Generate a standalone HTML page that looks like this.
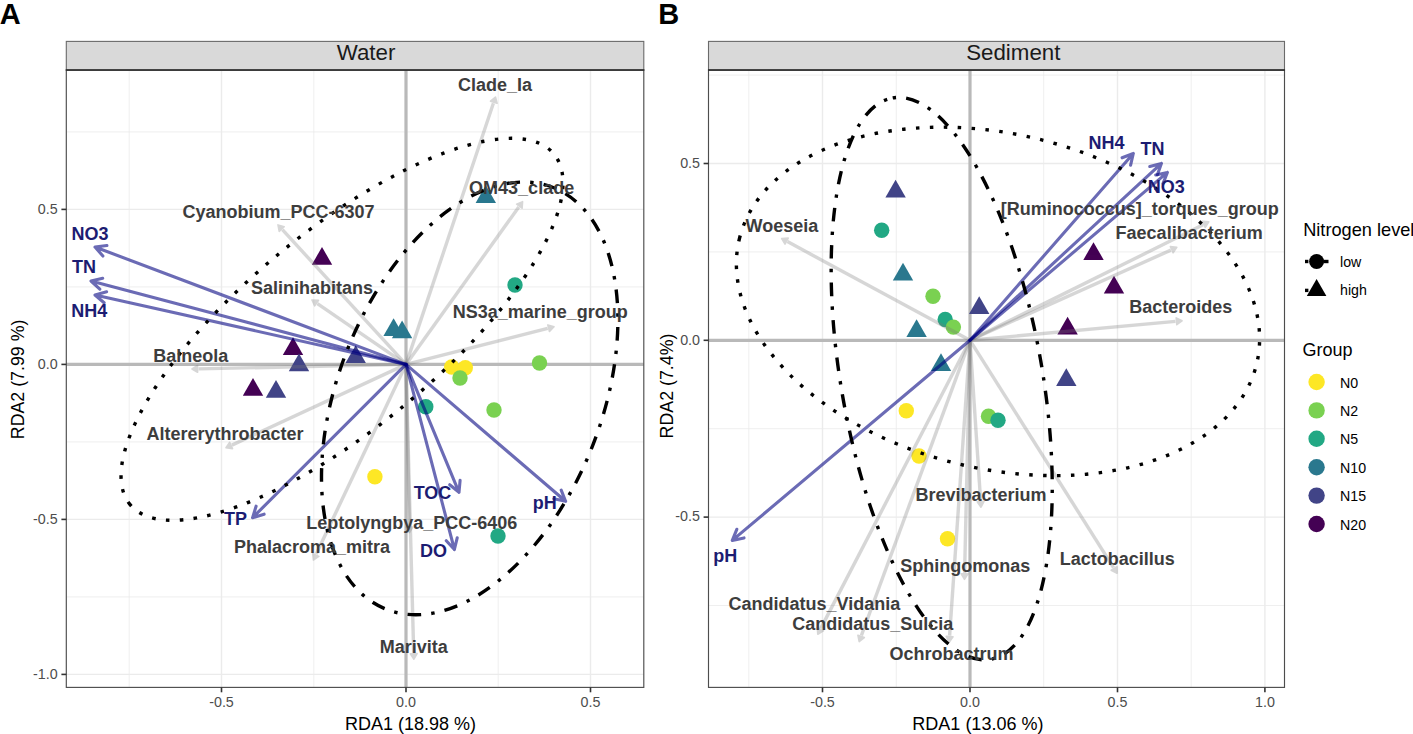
<!DOCTYPE html><html><head><meta charset="utf-8"><style>html,body{margin:0;padding:0;background:#fff;overflow:hidden}svg{display:block}text{font-family:"Liberation Sans", sans-serif}</style></head><body>
<svg width="1413" height="734" viewBox="0 0 1413 734">
<rect width="1413" height="734" fill="#fff"/>
<defs>
<clipPath id="clipWater"><rect x="66.3" y="70" width="577.5" height="617.4"/></clipPath>
<clipPath id="clipSediment"><rect x="708.5" y="70" width="576.0" height="617.4"/></clipPath>
</defs>
<text x="-0.3" y="23.7" font-size="29" font-weight="bold" fill="#000">A</text>
<text x="658.3" y="23.8" font-size="29" font-weight="bold" fill="#000">B</text>
<g clip-path="url(#clipWater)">
<line x1="129.2" y1="70" x2="129.2" y2="687.4" stroke="#ebebeb" stroke-width="0.8"/>
<line x1="313.8" y1="70" x2="313.8" y2="687.4" stroke="#ebebeb" stroke-width="0.8"/>
<line x1="498.2" y1="70" x2="498.2" y2="687.4" stroke="#ebebeb" stroke-width="0.8"/>
<line x1="66.3" y1="596.9" x2="643.8" y2="596.9" stroke="#ebebeb" stroke-width="0.8"/>
<line x1="66.3" y1="441.9" x2="643.8" y2="441.9" stroke="#ebebeb" stroke-width="0.8"/>
<line x1="66.3" y1="286.9" x2="643.8" y2="286.9" stroke="#ebebeb" stroke-width="0.8"/>
<line x1="66.3" y1="131.9" x2="643.8" y2="131.9" stroke="#ebebeb" stroke-width="0.8"/>
<line x1="221.5" y1="70" x2="221.5" y2="687.4" stroke="#ebebeb" stroke-width="1.4"/>
<line x1="406.0" y1="70" x2="406.0" y2="687.4" stroke="#ebebeb" stroke-width="1.4"/>
<line x1="590.5" y1="70" x2="590.5" y2="687.4" stroke="#ebebeb" stroke-width="1.4"/>
<line x1="66.3" y1="674.4" x2="643.8" y2="674.4" stroke="#ebebeb" stroke-width="1.4"/>
<line x1="66.3" y1="519.4" x2="643.8" y2="519.4" stroke="#ebebeb" stroke-width="1.4"/>
<line x1="66.3" y1="364.4" x2="643.8" y2="364.4" stroke="#ebebeb" stroke-width="1.4"/>
<line x1="66.3" y1="209.4" x2="643.8" y2="209.4" stroke="#ebebeb" stroke-width="1.4"/>
<line x1="406.0" y1="70" x2="406.0" y2="687.4" stroke="#b9b9b9" stroke-width="3.2"/>
<line x1="66.3" y1="364.4" x2="643.8" y2="364.4" stroke="#b9b9b9" stroke-width="3.2"/>
<circle cx="515.0" cy="285.0" r="7.7" fill="#22A884"/>
<circle cx="451.7" cy="367.0" r="7.7" fill="#FDE725"/>
<circle cx="465.3" cy="367.7" r="7.7" fill="#FDE725"/>
<circle cx="460.0" cy="378.0" r="7.7" fill="#7AD151"/>
<circle cx="539.5" cy="363.0" r="7.7" fill="#7AD151"/>
<circle cx="494.0" cy="410.0" r="7.7" fill="#7AD151"/>
<circle cx="425.8" cy="406.7" r="7.7" fill="#22A884"/>
<circle cx="498.0" cy="536.0" r="7.7" fill="#22A884"/>
<circle cx="374.9" cy="476.8" r="7.7" fill="#FDE725"/>
<path d="M485.8 185.2L496.0 202.9L475.6 202.9Z" fill="#2A788E"/>
<path d="M322.0 247.0L332.2 264.7L311.8 264.7Z" fill="#440154"/>
<path d="M293.0 337.2L303.2 354.9L282.8 354.9Z" fill="#440154"/>
<path d="M299.0 353.5L309.2 371.2L288.8 371.2Z" fill="#414487"/>
<path d="M253.0 378.1L263.2 395.8L242.8 395.8Z" fill="#440154"/>
<path d="M276.0 380.0L286.2 397.7L265.8 397.7Z" fill="#414487"/>
<path d="M393.6 318.3L403.8 336.0L383.4 336.0Z" fill="#2A788E"/>
<path d="M402.1 320.5L412.3 338.2L391.9 338.2Z" fill="#2A788E"/>
<path d="M355.7 345.3L365.9 363.0L345.5 363.0Z" fill="#414487"/>
<g opacity="0.3"><line x1="406.0" y1="364.4" x2="493.4" y2="103.2" stroke="#7a7a7a" stroke-width="3.4"/>
<path d="M495.5 97.0L497.0 103.3L490.5 101.2Z" fill="#7a7a7a" stroke="#7a7a7a" stroke-width="1.6" stroke-linejoin="round"/></g>
<g opacity="0.3"><line x1="406.0" y1="364.4" x2="518.8" y2="207.0" stroke="#7a7a7a" stroke-width="3.4"/>
<path d="M522.6 201.7L522.1 208.2L516.6 204.2Z" fill="#7a7a7a" stroke="#7a7a7a" stroke-width="1.6" stroke-linejoin="round"/></g>
<g opacity="0.3"><line x1="406.0" y1="364.4" x2="282.4" y2="229.7" stroke="#7a7a7a" stroke-width="3.4"/>
<path d="M278.0 224.9L284.2 226.7L279.2 231.3Z" fill="#7a7a7a" stroke="#7a7a7a" stroke-width="1.6" stroke-linejoin="round"/></g>
<g opacity="0.3"><line x1="406.0" y1="364.4" x2="317.4" y2="303.7" stroke="#7a7a7a" stroke-width="3.4"/>
<path d="M312.0 300.0L318.5 300.3L314.7 305.9Z" fill="#7a7a7a" stroke="#7a7a7a" stroke-width="1.6" stroke-linejoin="round"/></g>
<g opacity="0.3"><line x1="406.0" y1="364.4" x2="547.7" y2="328.4" stroke="#7a7a7a" stroke-width="3.4"/>
<path d="M554.0 326.8L549.5 331.5L547.8 324.9Z" fill="#7a7a7a" stroke="#7a7a7a" stroke-width="1.6" stroke-linejoin="round"/></g>
<g opacity="0.3"><line x1="406.0" y1="364.4" x2="198.5" y2="368.9" stroke="#7a7a7a" stroke-width="3.4"/>
<path d="M192.0 369.0L197.5 365.5L197.6 372.3Z" fill="#7a7a7a" stroke="#7a7a7a" stroke-width="1.6" stroke-linejoin="round"/></g>
<g opacity="0.3"><line x1="406.0" y1="364.4" x2="231.9" y2="445.1" stroke="#7a7a7a" stroke-width="3.4"/>
<path d="M226.0 447.8L229.6 442.4L232.5 448.6Z" fill="#7a7a7a" stroke="#7a7a7a" stroke-width="1.6" stroke-linejoin="round"/></g>
<g opacity="0.3"><line x1="406.0" y1="364.4" x2="409.4" y2="526.1" stroke="#7a7a7a" stroke-width="3.4"/>
<path d="M409.5 532.6L406.0 527.1L412.8 527.0Z" fill="#7a7a7a" stroke="#7a7a7a" stroke-width="1.6" stroke-linejoin="round"/></g>
<g opacity="0.3"><line x1="406.0" y1="364.4" x2="316.2" y2="554.1" stroke="#7a7a7a" stroke-width="3.4"/>
<path d="M313.4 560.0L312.7 553.5L318.8 556.4Z" fill="#7a7a7a" stroke="#7a7a7a" stroke-width="1.6" stroke-linejoin="round"/></g>
<g opacity="0.3"><line x1="406.0" y1="364.4" x2="413.7" y2="652.7" stroke="#7a7a7a" stroke-width="3.4"/>
<path d="M413.9 659.2L410.4 653.8L417.1 653.6Z" fill="#7a7a7a" stroke="#7a7a7a" stroke-width="1.6" stroke-linejoin="round"/></g>
<path d="M406.0 364.4L95.0 247.0M106.9 245.5L95.0 247.0L102.9 256.0" fill="none" stroke="rgba(0,0,128,0.58)" stroke-width="3.1" stroke-linejoin="round" stroke-linecap="round"/>
<path d="M406.0 364.4L91.0 281.0M102.7 278.3L91.0 281.0L99.8 289.2" fill="none" stroke="rgba(0,0,128,0.58)" stroke-width="3.1" stroke-linejoin="round" stroke-linecap="round"/>
<path d="M406.0 364.4L95.0 295.0M106.6 291.8L95.0 295.0L104.1 302.8" fill="none" stroke="rgba(0,0,128,0.58)" stroke-width="3.1" stroke-linejoin="round" stroke-linecap="round"/>
<path d="M406.0 364.4L252.6 517.7M256.1 506.2L252.6 517.7L264.1 514.2" fill="none" stroke="rgba(0,0,128,0.58)" stroke-width="3.1" stroke-linejoin="round" stroke-linecap="round"/>
<path d="M406.0 364.4L459.0 492.3M449.7 484.7L459.0 492.3L460.1 480.4" fill="none" stroke="rgba(0,0,128,0.58)" stroke-width="3.1" stroke-linejoin="round" stroke-linecap="round"/>
<path d="M406.0 364.4L454.4 549.5M446.3 540.7L454.4 549.5L457.2 537.8" fill="none" stroke="rgba(0,0,128,0.58)" stroke-width="3.1" stroke-linejoin="round" stroke-linecap="round"/>
<path d="M406.0 364.4L565.6 501.3M553.9 498.7L565.6 501.3L561.2 490.1" fill="none" stroke="rgba(0,0,128,0.58)" stroke-width="3.1" stroke-linejoin="round" stroke-linecap="round"/>
<ellipse cx="342.0" cy="329.3" rx="275.0" ry="98.4" transform="rotate(140.4 342.0 329.3)" fill="none" stroke="#000" stroke-width="3.4" stroke-dasharray="3.5 10.4"/>
<ellipse cx="469.7" cy="398.4" rx="226.8" ry="131.7" transform="rotate(-68.4 469.7 398.4)" fill="none" stroke="#000" stroke-width="3.4" stroke-dasharray="3.4 10.2 13.6 10.2"/>
<text x="457.9" y="91" fill="#3d3d3d" font-size="18" font-weight="bold">Clade_Ia</text>
<text x="469.1" y="194.3" fill="#3d3d3d" font-size="18" font-weight="bold">OM43_clade</text>
<text x="182.4" y="217.6" fill="#3d3d3d" font-size="18" font-weight="bold">Cyanobium_PCC-6307</text>
<text x="251" y="293.5" fill="#3d3d3d" font-size="18" font-weight="bold">Salinihabitans</text>
<text x="452.8" y="317.5" fill="#3d3d3d" font-size="18" font-weight="bold">NS3a_marine_group</text>
<text x="153.2" y="361.6" fill="#3d3d3d" font-size="18" font-weight="bold">Balneola</text>
<text x="146.5" y="440" fill="#3d3d3d" font-size="18" font-weight="bold">Altererythrobacter</text>
<text x="306.3" y="528.7" fill="#3d3d3d" font-size="18" font-weight="bold">Leptolyngbya_PCC-6406</text>
<text x="233.9" y="553" fill="#3d3d3d" font-size="18" font-weight="bold">Phalacroma_mitra</text>
<text x="379.8" y="652.7" fill="#3d3d3d" font-size="18" font-weight="bold">Marivita</text>
<text x="71.5" y="240" fill="#1c1c72" font-size="18" font-weight="bold">NO3</text>
<text x="72.0" y="273" fill="#1c1c72" font-size="18" font-weight="bold">TN</text>
<text x="71.2" y="317" fill="#1c1c72" font-size="18" font-weight="bold">NH4</text>
<text x="224.1" y="525" fill="#1c1c72" font-size="18" font-weight="bold">TP</text>
<text x="413.7" y="499.3" fill="#1c1c72" font-size="18" font-weight="bold">TOC</text>
<text x="420.1" y="556.5" fill="#1c1c72" font-size="18" font-weight="bold">DO</text>
<text x="532.8" y="508.9" fill="#1c1c72" font-size="18" font-weight="bold">pH</text>
</g>
<rect x="66.3" y="70" width="577.5" height="617.4" fill="none" stroke="#4d4d4d" stroke-width="1.15"/>
<rect x="66.3" y="41.4" width="577.5" height="28.6" fill="#d9d9d9" stroke="#6a6a6a" stroke-width="1.1"/>
<line x1="65.8" y1="70" x2="644.3" y2="70" stroke="#262626" stroke-width="1.7"/>
<text x="366.0" y="60" text-anchor="middle" fill="#1a1a1a" font-size="22.3">Water</text>
<line x1="221.5" y1="687.4" x2="221.5" y2="692.3" stroke="#333" stroke-width="1.6"/>
<text x="221.5" y="706.5" text-anchor="middle" fill="#4d4d4d" font-size="14.3">-0.5</text>
<line x1="406.0" y1="687.4" x2="406.0" y2="692.3" stroke="#333" stroke-width="1.6"/>
<text x="406.0" y="706.5" text-anchor="middle" fill="#4d4d4d" font-size="14.3">0.0</text>
<line x1="590.5" y1="687.4" x2="590.5" y2="692.3" stroke="#333" stroke-width="1.6"/>
<text x="590.5" y="706.5" text-anchor="middle" fill="#4d4d4d" font-size="14.3">0.5</text>
<line x1="61.4" y1="674.4" x2="66.3" y2="674.4" stroke="#333" stroke-width="1.6"/>
<text x="57.6" y="678.6" text-anchor="end" fill="#4d4d4d" font-size="14.3">-1.0</text>
<line x1="61.4" y1="519.4" x2="66.3" y2="519.4" stroke="#333" stroke-width="1.6"/>
<text x="57.6" y="523.6" text-anchor="end" fill="#4d4d4d" font-size="14.3">-0.5</text>
<line x1="61.4" y1="364.4" x2="66.3" y2="364.4" stroke="#333" stroke-width="1.6"/>
<text x="57.6" y="368.6" text-anchor="end" fill="#4d4d4d" font-size="14.3">0.0</text>
<line x1="61.4" y1="209.4" x2="66.3" y2="209.4" stroke="#333" stroke-width="1.6"/>
<text x="57.6" y="213.6" text-anchor="end" fill="#4d4d4d" font-size="14.3">0.5</text>
<text x="410.5" y="730.2" text-anchor="middle" fill="#000" font-size="18">RDA1 (18.98 %)</text>
<text transform="translate(23.8,379.4) rotate(-90)" text-anchor="middle" fill="#000" font-size="17.8">RDA2 (7.99 %)</text>
<g clip-path="url(#clipSediment)">
<line x1="748.8" y1="70" x2="748.8" y2="687.4" stroke="#ebebeb" stroke-width="0.8"/>
<line x1="896.3" y1="70" x2="896.3" y2="687.4" stroke="#ebebeb" stroke-width="0.8"/>
<line x1="1043.7" y1="70" x2="1043.7" y2="687.4" stroke="#ebebeb" stroke-width="0.8"/>
<line x1="1191.2" y1="70" x2="1191.2" y2="687.4" stroke="#ebebeb" stroke-width="0.8"/>
<line x1="708.5" y1="605.5" x2="1284.5" y2="605.5" stroke="#ebebeb" stroke-width="0.8"/>
<line x1="708.5" y1="428.7" x2="1284.5" y2="428.7" stroke="#ebebeb" stroke-width="0.8"/>
<line x1="708.5" y1="251.9" x2="1284.5" y2="251.9" stroke="#ebebeb" stroke-width="0.8"/>
<line x1="708.5" y1="75.1" x2="1284.5" y2="75.1" stroke="#ebebeb" stroke-width="0.8"/>
<line x1="822.5" y1="70" x2="822.5" y2="687.4" stroke="#ebebeb" stroke-width="1.4"/>
<line x1="970.0" y1="70" x2="970.0" y2="687.4" stroke="#ebebeb" stroke-width="1.4"/>
<line x1="1117.5" y1="70" x2="1117.5" y2="687.4" stroke="#ebebeb" stroke-width="1.4"/>
<line x1="1264.9" y1="70" x2="1264.9" y2="687.4" stroke="#ebebeb" stroke-width="1.4"/>
<line x1="708.5" y1="517.1" x2="1284.5" y2="517.1" stroke="#ebebeb" stroke-width="1.4"/>
<line x1="708.5" y1="340.3" x2="1284.5" y2="340.3" stroke="#ebebeb" stroke-width="1.4"/>
<line x1="708.5" y1="163.5" x2="1284.5" y2="163.5" stroke="#ebebeb" stroke-width="1.4"/>
<line x1="970.0" y1="70" x2="970.0" y2="687.4" stroke="#b9b9b9" stroke-width="3.2"/>
<line x1="708.5" y1="340.3" x2="1284.5" y2="340.3" stroke="#b9b9b9" stroke-width="3.2"/>
<circle cx="881.7" cy="230.3" r="7.7" fill="#22A884"/>
<circle cx="933.0" cy="296.3" r="7.7" fill="#7AD151"/>
<circle cx="945.2" cy="319.5" r="7.7" fill="#22A884"/>
<circle cx="953.4" cy="327.1" r="7.7" fill="#7AD151"/>
<circle cx="906.3" cy="410.8" r="7.7" fill="#FDE725"/>
<circle cx="988.5" cy="416.2" r="7.7" fill="#7AD151"/>
<circle cx="998.0" cy="420.3" r="7.7" fill="#22A884"/>
<circle cx="919.0" cy="456.0" r="7.7" fill="#FDE725"/>
<circle cx="947.5" cy="538.7" r="7.7" fill="#FDE725"/>
<path d="M895.6 179.7L905.8 197.4L885.4 197.4Z" fill="#414487"/>
<path d="M903.0 262.7L913.2 280.4L892.8 280.4Z" fill="#2A788E"/>
<path d="M979.2 296.2L989.4 313.9L969.0 313.9Z" fill="#414487"/>
<path d="M916.6 319.2L926.8 336.9L906.4 336.9Z" fill="#2A788E"/>
<path d="M941.0 353.2L951.2 370.9L930.8 370.9Z" fill="#2A788E"/>
<path d="M1093.5 242.2L1103.7 259.9L1083.3 259.9Z" fill="#440154"/>
<path d="M1114.0 275.7L1124.2 293.4L1103.8 293.4Z" fill="#440154"/>
<path d="M1067.6 316.7L1077.8 334.4L1057.4 334.4Z" fill="#440154"/>
<path d="M1066.3 368.2L1076.5 385.9L1056.1 385.9Z" fill="#414487"/>
<g opacity="0.3"><line x1="970.0" y1="340.3" x2="787.4" y2="241.6" stroke="#7a7a7a" stroke-width="3.4"/>
<path d="M781.7 238.5L788.2 238.1L785.0 244.1Z" fill="#7a7a7a" stroke="#7a7a7a" stroke-width="1.6" stroke-linejoin="round"/></g>
<g opacity="0.3"><line x1="970.0" y1="340.3" x2="1203.0" y2="224.8" stroke="#7a7a7a" stroke-width="3.4"/>
<path d="M1208.8 221.9L1205.3 227.4L1202.3 221.3Z" fill="#7a7a7a" stroke="#7a7a7a" stroke-width="1.6" stroke-linejoin="round"/></g>
<g opacity="0.3"><line x1="970.0" y1="340.3" x2="1170.9" y2="250.1" stroke="#7a7a7a" stroke-width="3.4"/>
<path d="M1176.8 247.4L1173.1 252.8L1170.4 246.6Z" fill="#7a7a7a" stroke="#7a7a7a" stroke-width="1.6" stroke-linejoin="round"/></g>
<g opacity="0.3"><line x1="970.0" y1="340.3" x2="1175.5" y2="321.4" stroke="#7a7a7a" stroke-width="3.4"/>
<path d="M1182.0 320.8L1176.8 324.7L1176.2 317.9Z" fill="#7a7a7a" stroke="#7a7a7a" stroke-width="1.6" stroke-linejoin="round"/></g>
<g opacity="0.3"><line x1="970.0" y1="340.3" x2="980.6" y2="500.7" stroke="#7a7a7a" stroke-width="3.4"/>
<path d="M981.0 507.2L977.2 501.9L984.0 501.4Z" fill="#7a7a7a" stroke="#7a7a7a" stroke-width="1.6" stroke-linejoin="round"/></g>
<g opacity="0.3"><line x1="970.0" y1="340.3" x2="964.6" y2="572.9" stroke="#7a7a7a" stroke-width="3.4"/>
<path d="M964.5 579.4L961.2 573.8L968.0 573.9Z" fill="#7a7a7a" stroke="#7a7a7a" stroke-width="1.6" stroke-linejoin="round"/></g>
<g opacity="0.3"><line x1="970.0" y1="340.3" x2="820.8" y2="628.4" stroke="#7a7a7a" stroke-width="3.4"/>
<path d="M817.8 634.2L817.3 627.7L823.4 630.8Z" fill="#7a7a7a" stroke="#7a7a7a" stroke-width="1.6" stroke-linejoin="round"/></g>
<g opacity="0.3"><line x1="970.0" y1="340.3" x2="861.4" y2="635.5" stroke="#7a7a7a" stroke-width="3.4"/>
<path d="M859.2 641.6L857.9 635.2L864.3 637.6Z" fill="#7a7a7a" stroke="#7a7a7a" stroke-width="1.6" stroke-linejoin="round"/></g>
<g opacity="0.3"><line x1="970.0" y1="340.3" x2="949.6" y2="635.7" stroke="#7a7a7a" stroke-width="3.4"/>
<path d="M949.2 642.2L946.2 636.4L953.0 636.9Z" fill="#7a7a7a" stroke="#7a7a7a" stroke-width="1.6" stroke-linejoin="round"/></g>
<g opacity="0.3"><line x1="970.0" y1="340.3" x2="1113.5" y2="567.7" stroke="#7a7a7a" stroke-width="3.4"/>
<path d="M1117.0 573.2L1111.2 570.3L1116.9 566.7Z" fill="#7a7a7a" stroke="#7a7a7a" stroke-width="1.6" stroke-linejoin="round"/></g>
<path d="M970.0 340.3L1133.3 153.5M1130.6 165.2L1133.3 153.5L1122.1 157.8" fill="none" stroke="rgba(0,0,128,0.58)" stroke-width="3.1" stroke-linejoin="round" stroke-linecap="round"/>
<path d="M970.0 340.3L1161.4 163.4M1157.4 174.7L1161.4 163.4L1149.8 166.5" fill="none" stroke="rgba(0,0,128,0.58)" stroke-width="3.1" stroke-linejoin="round" stroke-linecap="round"/>
<path d="M970.0 340.3L1167.4 172.4M1163.0 183.6L1167.4 172.4L1155.7 175.0" fill="none" stroke="rgba(0,0,128,0.58)" stroke-width="3.1" stroke-linejoin="round" stroke-linecap="round"/>
<path d="M970.0 340.3L732.3 540.4M736.8 529.3L732.3 540.4L744.0 537.9" fill="none" stroke="rgba(0,0,128,0.58)" stroke-width="3.1" stroke-linejoin="round" stroke-linecap="round"/>
<ellipse cx="998.0" cy="301.4" rx="266.1" ry="167.3" transform="rotate(-166.4 998.0 301.4)" fill="none" stroke="#000" stroke-width="3.4" stroke-dasharray="3.5 10.4"/>
<ellipse cx="941.7" cy="378.6" rx="284.9" ry="100.6" transform="rotate(-99.9 941.7 378.6)" fill="none" stroke="#000" stroke-width="3.4" stroke-dasharray="3.4 10.2 13.6 10.2"/>
<text x="745.6" y="232.4" fill="#3d3d3d" font-size="18" font-weight="bold">Woeseia</text>
<text x="1000.8" y="214.8" fill="#3d3d3d" font-size="18" font-weight="bold">[Ruminococcus]_torques_group</text>
<text x="1115.6" y="239.4" fill="#3d3d3d" font-size="18" font-weight="bold">Faecalibacterium</text>
<text x="1129.2" y="313.4" fill="#3d3d3d" font-size="18" font-weight="bold">Bacteroides</text>
<text x="915.5" y="500.7" fill="#3d3d3d" font-size="18" font-weight="bold">Brevibacterium</text>
<text x="900.2" y="572.2" fill="#3d3d3d" font-size="18" font-weight="bold">Sphingomonas</text>
<text x="1059.8" y="565.4" fill="#3d3d3d" font-size="18" font-weight="bold">Lactobacillus</text>
<text x="728.5" y="610.3" fill="#3d3d3d" font-size="18" font-weight="bold">Candidatus_Vidania</text>
<text x="792.2" y="630" fill="#3d3d3d" font-size="18" font-weight="bold">Candidatus_Sulcia</text>
<text x="889.5" y="660" fill="#3d3d3d" font-size="18" font-weight="bold">Ochrobactrum</text>
<text x="1088.4" y="148.5" fill="#1c1c72" font-size="18" font-weight="bold">NH4</text>
<text x="1140.5" y="155.4" fill="#1c1c72" font-size="18" font-weight="bold">TN</text>
<text x="1147.7" y="193" fill="#1c1c72" font-size="18" font-weight="bold">NO3</text>
<text x="713.2" y="562" fill="#1c1c72" font-size="18" font-weight="bold">pH</text>
</g>
<rect x="708.5" y="70" width="576.0" height="617.4" fill="none" stroke="#4d4d4d" stroke-width="1.15"/>
<rect x="708.5" y="41.4" width="576.0" height="28.6" fill="#d9d9d9" stroke="#6a6a6a" stroke-width="1.1"/>
<line x1="708.0" y1="70" x2="1285.0" y2="70" stroke="#262626" stroke-width="1.7"/>
<text x="1013.3" y="60" text-anchor="middle" fill="#1a1a1a" font-size="22.3">Sediment</text>
<line x1="822.5" y1="687.4" x2="822.5" y2="692.3" stroke="#333" stroke-width="1.6"/>
<text x="822.5" y="706.5" text-anchor="middle" fill="#4d4d4d" font-size="14.3">-0.5</text>
<line x1="970.0" y1="687.4" x2="970.0" y2="692.3" stroke="#333" stroke-width="1.6"/>
<text x="970.0" y="706.5" text-anchor="middle" fill="#4d4d4d" font-size="14.3">0.0</text>
<line x1="1117.5" y1="687.4" x2="1117.5" y2="692.3" stroke="#333" stroke-width="1.6"/>
<text x="1117.5" y="706.5" text-anchor="middle" fill="#4d4d4d" font-size="14.3">0.5</text>
<line x1="1264.9" y1="687.4" x2="1264.9" y2="692.3" stroke="#333" stroke-width="1.6"/>
<text x="1264.9" y="706.5" text-anchor="middle" fill="#4d4d4d" font-size="14.3">1.0</text>
<line x1="703.6" y1="517.1" x2="708.5" y2="517.1" stroke="#333" stroke-width="1.6"/>
<text x="700.0" y="521.3" text-anchor="end" fill="#4d4d4d" font-size="14.3">-0.5</text>
<line x1="703.6" y1="340.3" x2="708.5" y2="340.3" stroke="#333" stroke-width="1.6"/>
<text x="700.0" y="344.5" text-anchor="end" fill="#4d4d4d" font-size="14.3">0.0</text>
<line x1="703.6" y1="163.5" x2="708.5" y2="163.5" stroke="#333" stroke-width="1.6"/>
<text x="700.0" y="167.7" text-anchor="end" fill="#4d4d4d" font-size="14.3">0.5</text>
<text x="977.9" y="730.2" text-anchor="middle" fill="#000" font-size="18">RDA1 (13.06 %)</text>
<text transform="translate(672.7,386.0) rotate(-90)" text-anchor="middle" fill="#000" font-size="17.8">RDA2 (7.4%)</text>
<text x="1303.2" y="235.5" font-size="18.2" fill="#000">Nitrogen level</text>
<rect x="1305" y="259.8" width="3.4" height="3.4" fill="#000"/><rect x="1323.5" y="259.8" width="5" height="3.4" fill="#000"/>
<circle cx="1316.6" cy="261.5" r="7.5" fill="#000"/>
<text x="1340" y="266.5" font-size="14.2" fill="#000">low</text>
<rect x="1305" y="288.7" width="3.4" height="3.4" fill="#000"/>
<path d="M1316.6 279.0L1326.4 295.9L1306.8 295.9Z" fill="#000"/>
<text x="1340" y="294.5" font-size="14.2" fill="#000">high</text>
<text x="1302.6" y="356.3" font-size="18" fill="#000">Group</text>
<circle cx="1316.6" cy="382.0" r="8.2" fill="#FDE725"/>
<text x="1340" y="387.5" font-size="14.2" fill="#000">N0</text>
<circle cx="1316.6" cy="410.4" r="8.2" fill="#7AD151"/>
<text x="1340" y="415.9" font-size="14.2" fill="#000">N2</text>
<circle cx="1316.6" cy="438.8" r="8.2" fill="#22A884"/>
<text x="1340" y="444.3" font-size="14.2" fill="#000">N5</text>
<circle cx="1316.6" cy="467.2" r="8.2" fill="#2A788E"/>
<text x="1340" y="472.7" font-size="14.2" fill="#000">N10</text>
<circle cx="1316.6" cy="495.6" r="8.2" fill="#414487"/>
<text x="1340" y="501.1" font-size="14.2" fill="#000">N15</text>
<circle cx="1316.6" cy="524.0" r="8.2" fill="#440154"/>
<text x="1340" y="529.5" font-size="14.2" fill="#000">N20</text>
</svg></body></html>
